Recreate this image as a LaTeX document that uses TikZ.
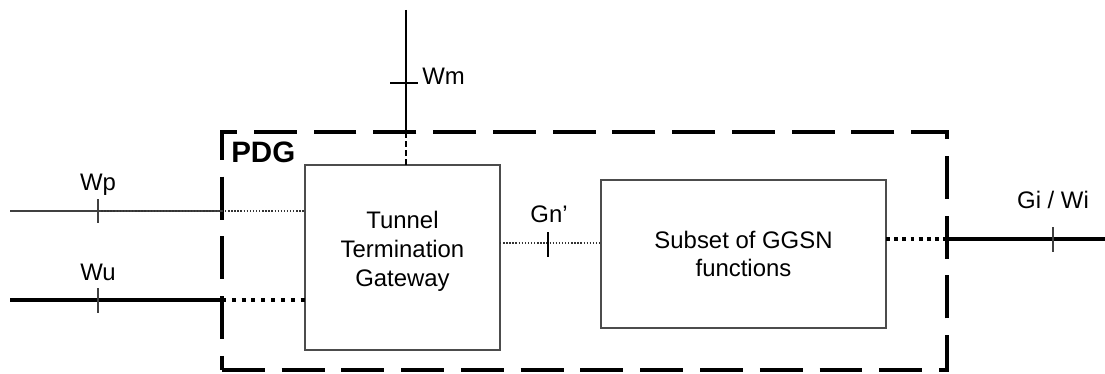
\documentclass[tikz,border=0pt]{standalone}
\usepackage{fontspec}
\setmainfont{Liberation Sans}
\usetikzlibrary{positioning}

\tikzset{
    lbl/.style={font=\fontsize{17}{20.5}\selectfont, inner sep=0pt},
    fnbox/.style={draw=black!70, line width=1.1pt, outer sep=0pt, inner sep=0pt},
    pdgbox/.style={draw=black, line width=2.8pt, outer sep=0pt, dash pattern=on 30.5pt off 12pt},
    thinref/.style={draw=black!75, line width=1.1pt},
    thickref/.style={draw=black, line width=2.8pt},
    thindots/.style={draw=black!80, line width=1pt, dash pattern=on 1pt off 1.2pt},
    thickdots/.style={draw=black, line width=2.8pt, dash pattern=on 2.8pt off 4.2pt},
    tick/.style={draw=black!75, line width=1.1pt}
}

\begin{document}
\begin{tikzpicture}[x=0.025cm, y=-0.025cm]
        \useasboundingbox (0,0) rectangle (1105,374);

        % PDG frame and the two functional blocks
        \node[pdgbox, minimum width=18.125cm, minimum height=5.95cm] (pdg) at (584.5,251) {};
        \node[lbl, font=\fontsize{21}{24}\selectfont\bfseries, anchor=base west] (pdglbl) at (231,162) {PDG};
        \node[fnbox, minimum width=4.875cm, minimum height=4.625cm] (ttg) at (402.5,257.5) {};
        \node[lbl, align=center] (ttgtxt) at (402.5,251) {Tunnel\\Termination\\Gateway};
        \node[fnbox, minimum width=7.125cm, minimum height=3.7cm, lbl, align=center] (ggsn) at (743.5,254) {Subset of GGSN\\functions};

        % Free ends of the reference points
        \coordinate (wm) at (406,10);
        \coordinate (wp) at (10,211);
        \coordinate (wu) at (10,300);
        \coordinate (gn) at (548,243);
        \coordinate (gi) at (1053,239);
        \coordinate (giend) at (1105,239);

        % Wm from above into the gateway
        \draw[thinref, black] (wm) -- (wm |- pdg.north);
        \draw[black, line width=1pt, dash pattern=on 4pt off 2.5pt] (wm |- pdg.north) -- (wm |- ttg.north);
        \draw[tick, black] (390,83) -- (418,83);
        \node[lbl, anchor=base west] (wmlbl) at (422,85) {Wm};

        % Wp (thin) and Wu (thick) on the left
        \draw[thinref] (wp) -- (wp -| pdg.west);
        \draw[thindots] (98,211) -- (wp -| pdg.west);
        \draw[thindots] (wp -| pdg.west) -- (wp -| ttg.west);
        \draw[tick] (98,199) -- (98,223);
        \node[lbl, anchor=base] (wplbl) at (98,190) {Wp};

        \draw[thickref] (wu) -- (wu -| pdg.west);
        \draw[thickdots] (wu -| pdg.west) -- (wu -| ttg.west);
        \draw[tick] (98,288) -- (98,313);
        \node[lbl, anchor=base] (wulbl) at (98,280) {Wu};

        % Gn' between the two blocks
        \draw[thindots] (gn -| ttg.east) -- (gn -| ggsn.west);
        \draw[tick, black] (548,232) -- (548,257);
        \node[lbl, anchor=base] (gnlbl) at (549,222) {Gn'};

        % Gi / Wi on the right
        \draw[thickdots, dash pattern=on 2.8pt off 3pt] (gi -| ggsn.east) -- (gi -| pdg.east);
        \draw[thickref] (gi -| pdg.east) -- (giend);
        \draw[tick] (1053,227) -- (1053,252);
        \node[lbl, anchor=base] (gilbl) at (1053,208) {Gi / Wi};

\end{tikzpicture}
\end{document}
